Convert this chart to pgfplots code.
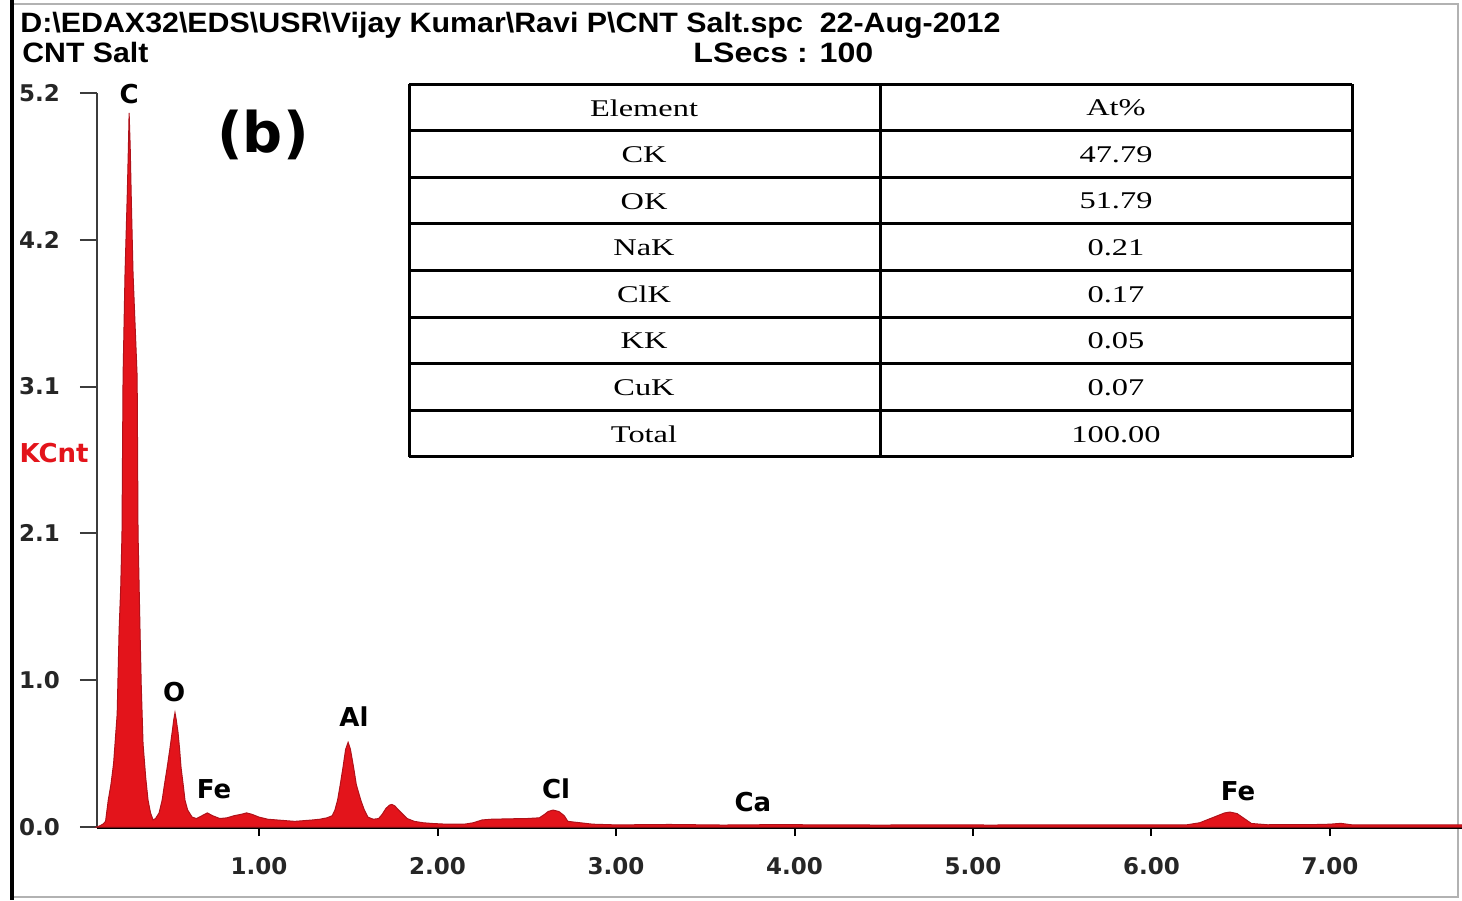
\documentclass[border=0pt]{standalone}
\usepackage{pgfplots}
\pgfplotsset{compat=1.18}
\usepackage{fontspec}
\setmainfont{Liberation Sans}
\newfontfamily\tabfont{Liberation Serif}
\newfontfamily\lblfont{DejaVu Sans}
\definecolor{specred}{HTML}{E3141B}
\definecolor{specedge}{HTML}{B0121A}
\definecolor{axgray}{HTML}{3C3C3C}

% EDS spectrum, x in keV, y in KCnt
\pgfplotstableread{
x y
0.092 0.00
0.110 0.01
0.125 0.02
0.140 0.04
0.155 0.19
0.170 0.30
0.185 0.45
0.193 0.59
0.205 0.80
0.216 1.40
0.225 1.70
0.232 2.08
0.238 3.19
0.249 3.92
0.262 4.50
0.268 4.82
0.272 5.06
0.278 4.82
0.285 4.40
0.294 3.92
0.317 3.19
0.322 2.08
0.333 1.40
0.340 1.00
0.350 0.59
0.365 0.35
0.378 0.19
0.392 0.10
0.406 0.05
0.420 0.06
0.440 0.10
0.457 0.19
0.470 0.30
0.485 0.42
0.500 0.55
0.513 0.67
0.522 0.76
0.529 0.81
0.536 0.76
0.546 0.67
0.555 0.55
0.563 0.42
0.575 0.30
0.585 0.19
0.600 0.12
0.625 0.07
0.650 0.06
0.680 0.08
0.710 0.10
0.740 0.08
0.780 0.06
0.820 0.065
0.860 0.08
0.900 0.09
0.930 0.10
0.960 0.09
1.000 0.07
1.050 0.055
1.100 0.05
1.150 0.045
1.200 0.04
1.250 0.045
1.300 0.05
1.340 0.055
1.380 0.065
1.410 0.08
1.425 0.12
1.440 0.19
1.455 0.30
1.470 0.42
1.485 0.55
1.499 0.60
1.512 0.55
1.530 0.42
1.545 0.30
1.570 0.19
1.590 0.12
1.610 0.07
1.640 0.055
1.670 0.06
1.690 0.09
1.710 0.13
1.730 0.155
1.744 0.16
1.760 0.15
1.790 0.11
1.830 0.06
1.870 0.04
1.920 0.03
1.970 0.025
2.050 0.02
2.150 0.02
2.200 0.03
2.250 0.05
2.300 0.055
2.400 0.058
2.500 0.06
2.570 0.065
2.600 0.09
2.620 0.11
2.647 0.12
2.680 0.11
2.710 0.08
2.730 0.04
2.800 0.03
2.870 0.02
3.000 0.015
3.300 0.018
3.600 0.014
3.900 0.017
4.200 0.015
4.500 0.014
4.800 0.016
5.100 0.014
5.400 0.016
5.700 0.015
6.000 0.016
6.200 0.016
6.270 0.03
6.350 0.07
6.410 0.10
6.440 0.106
6.480 0.095
6.520 0.06
6.560 0.025
6.650 0.016
6.900 0.017
7.000 0.02
7.060 0.026
7.120 0.016
7.400 0.015
7.740 0.015
}\spectrum

\begin{document}
\begin{tikzpicture}
\path[use as bounding box] (0,0) rectangle (731pt,-450pt);
\begin{scope}[x=0.5pt,y=-0.5pt]
  % frame
  \draw[gray!60, line width=0.8pt] (12,4) -- (1458,4) -- (1458,897) -- (12,897);
  \draw[black, line width=2.2pt] (12,0) -- (12,900);
  % header
  \node[anchor=base west, inner sep=0pt] at (20,32)
    {\resizebox{490pt}{\height}{\fontsize{14}{14}\selectfont\bfseries D:\textbackslash EDAX32\textbackslash EDS\textbackslash USR\textbackslash Vijay Kumar\textbackslash Ravi P\textbackslash CNT Salt.spc\ \ 22-Aug-2012}};
  \node[anchor=base west, inner sep=0pt] at (22,62)
    {\resizebox{63pt}{\height}{\fontsize{14}{14}\selectfont\bfseries CNT Salt}};
  \node[anchor=base west, inner sep=0pt] at (693,62)
    {\resizebox{90pt}{\height}{\fontsize{14}{14}\selectfont\bfseries LSecs : 100}};
  \node[text=specred, font=\lblfont\bfseries\fontsize{13}{13}\selectfont] at (54,453) {KCnt};
  % composition table
  \foreach \r in {0,...,8} \draw[line width=1.5pt] (409,84+46.6*\r) -- (1352,84+46.6*\r);
  \foreach \c in {409,880,1352} \draw[line width=1.5pt] (\c,84) -- (\c,456.8);
  \foreach \a/\b [count=\i from 0] in {Element/At\%,CK/47.79,OK/51.79,NaK/0.21,ClK/0.17,KK/0.05,CuK/0.07,Total/100.00}{
    \node[font=\tabfont\fontsize{12}{12}\selectfont] at (644,108+46.6*\i) {\scalebox{1.35}[1]{\a}};
    \node[font=\tabfont\fontsize{12}{12}\selectfont] at (1116,108+46.6*\i) {\scalebox{1.35}[1]{\b}};
  }
\end{scope}
\begin{axis}[
  at={(48.5pt,-413.5pt)}, anchor=south west,
  scale only axis, width=682.5pt, height=367pt,
  xmin=0.092, xmax=7.74, ymin=0, ymax=5.2,
  axis lines=left, axis line style={-},
  x axis line style={black, line width=1.5pt},
  y axis line style={axgray, line width=1pt},
  tick align=outside, major tick length=8.5pt,
  ytick={0,1.04,2.08,3.12,4.16,5.2},
  yticklabels={0.0,1.0,2.1,3.1,4.2,5.2},
  xtick={1,2,3,4,5,6,7},
  xticklabels={1.00,2.00,3.00,4.00,5.00,6.00,7.00},
  ytick style={axgray, line width=1pt},
  xtick style={black, line width=1pt, /pgfplots/major tick length=4.5pt},
  ticklabel style={font=\lblfont\bfseries\fontsize{11.5}{12}\selectfont, text=black!85},
  yticklabel style={anchor=west, xshift=-34pt},
  xticklabel style={yshift=-3pt},
  clip=false,
]
\addplot[fill=specred, draw=specedge, line width=0.5pt] table {\spectrum} \closedcycle;
\begin{scope}[font=\lblfont\bfseries\fontsize{13}{13}\selectfont]
\node at (axis cs:0.272,5.19) {C};
\node at (axis cs:0.524,0.956) {O};
\node at (axis cs:0.748,0.27) {Fe};
\node at (axis cs:1.532,0.78) {Al};
\node at (axis cs:2.664,0.27) {Cl};
\node at (axis cs:3.767,0.177) {Ca};
\node at (axis cs:6.485,0.255) {Fe};
\end{scope}
\node[font=\lblfont\bfseries\fontsize{28}{28}\selectfont] at (axis cs:1.022,4.90) {(b)};
\end{axis}
\end{tikzpicture}
\end{document}
